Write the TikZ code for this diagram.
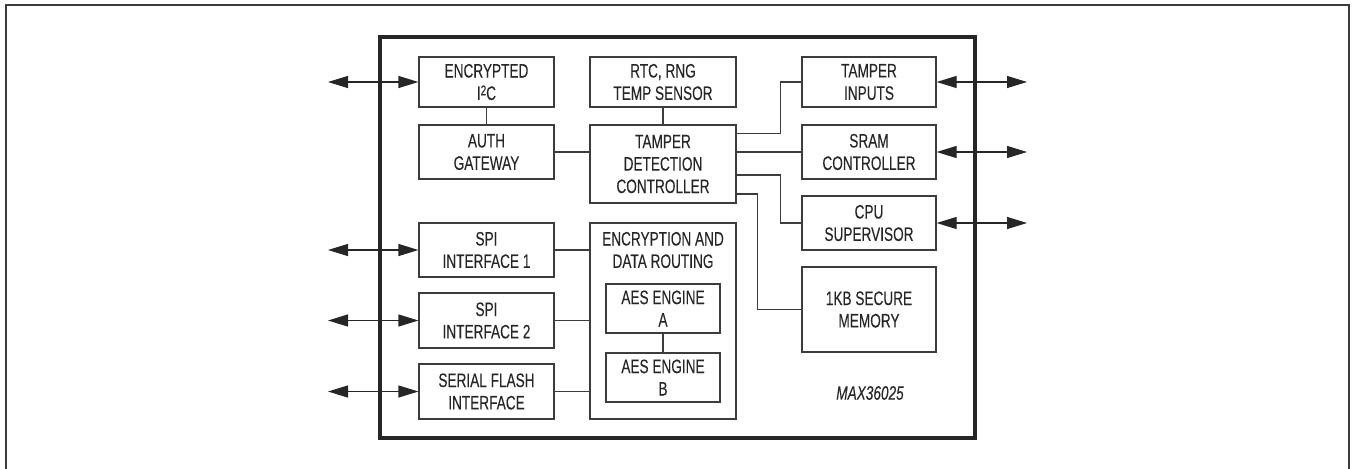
\documentclass[tikz,border=0pt]{standalone}
\usepackage{fontspec}
\setmainfont{Liberation Sans}[FakeStretch=0.70, FakeBold=0.15]
\usetikzlibrary{arrows.meta}
\definecolor{ink}{HTML}{262626}
\definecolor{edge}{HTML}{3C3C3C}
\newcommand\blocktext{\fontsize{14.6}{16.8}\selectfont}
\tikzset{
  block/.style={draw=edge, line width=0.9pt, inner sep=0pt, align=center,
    text=ink, font=\blocktext},
  wire/.style={draw=edge, line width=0.9pt},
  bus/.style={draw=ink, line width=0.9pt,
    {Triangle[length=15pt,width=9pt]}-{Triangle[length=15pt,width=9pt]}},
}
\begin{document}
\begin{tikzpicture}[x=0.75pt,y=-0.75pt]
\useasboundingbox (0,0) rectangle (1352,468);

% outer frame
\draw[draw=edge, line width=1.6pt] (6,475) -- (6,5) -- (1349,5) -- (1349,475);

% device outline
\node[draw=ink, line width=2.4pt, minimum width=446.25pt, minimum height=300.75pt,
  inner sep=0pt] (chip) at (677.5,237.5) {};

% blocks
\node[block, minimum width=101.25pt, minimum height=37.5pt]  (i2c)  at (486.5,82)    {ENCRYPTED\\I\raisebox{0.45ex}{\fontsize{10.5}{10.5}\selectfont 2}C};
\node[block, minimum width=101.25pt, minimum height=40.5pt]  (auth) at (486.5,152)   {AUTH\\GATEWAY};
\node[block, minimum width=109.5pt,  minimum height=37.5pt]  (rtc)  at (663,82)      {RTC, RNG\\TEMP SENSOR};
\node[block, minimum width=109.5pt,  minimum height=58.5pt]  (tdc)  at (663,164)     {TAMPER\\DETECTION\\CONTROLLER};
\node[block, minimum width=100.5pt,  minimum height=37.5pt]  (tin)  at (869,82)      {TAMPER\\INPUTS};
\node[block, minimum width=100.5pt,  minimum height=40.5pt]  (sram) at (869,152)     {SRAM\\CONTROLLER};
\node[block, minimum width=100.5pt,  minimum height=40.5pt]  (cpu)  at (869,223)     {CPU\\SUPERVISOR};
\node[block, minimum width=100.5pt,  minimum height=63.75pt] (mem)  at (869,309.5)   {1KB SECURE\\MEMORY};
\node[block, minimum width=101.25pt, minimum height=40.5pt]  (spi1) at (486.5,250)   {SPI\\INTERFACE 1};
\node[block, minimum width=101.25pt, minimum height=41.25pt] (spi2) at (486.5,320.5) {SPI\\INTERFACE 2};
\node[block, minimum width=101.25pt, minimum height=41.25pt] (sfl)  at (486.5,391.5) {SERIAL FLASH\\INTERFACE};
\node[block, minimum width=109.5pt,  minimum height=147pt]   (enc)  at (663,321)     {};
\node[text=ink, align=center, inner sep=0pt, font=\blocktext]
  (enct) at (663,250) {ENCRYPTION AND\\DATA ROUTING};
\node[block, minimum width=85.5pt, minimum height=36.75pt] (aesa) at (663,308.5) {AES ENGINE\\A};
\node[block, minimum width=85.5pt, minimum height=36.75pt] (aesb) at (663,377.5) {AES ENGINE\\B};
\node[text=ink, inner sep=0pt, font=\blocktext\itshape]
  (part) at (870,393) {MAX36025};

% internal connections
\draw[wire] (i2c.south) -- (auth.north);
\draw[wire] (auth.east) -- (auth.east -| tdc.west);
\draw[wire] (rtc.south) -- (tdc.north);
\draw[wire] ([yshift=-6.75pt]tdc.north east) -- ++(44,0) |- (tin.west);
\draw[wire] (sram.west) -- (sram.west -| tdc.east);
\draw[wire] ([yshift=-8.25pt]tdc.east) -- ++(44,0) |- (cpu.west);
\draw[wire] ([yshift=-22.5pt]tdc.east) -- ++(21,0) |- (mem.west);
\draw[wire] (spi1.east) -- (spi1.east -| enc.west);
\draw[wire] (spi2.east) -- (spi2.east -| enc.west);
\draw[wire] (sfl.east) -- (sfl.east -| enc.west);
\draw[wire] (aesa.south) -- (aesb.north);

% external pins
\coordinate (pi2c) at (328,82);
\coordinate (pspi1) at (328,250);
\coordinate (pspi2) at (328,320.5);
\coordinate (psfl) at (328,391.5);
\coordinate (ptin) at (1027,82);
\coordinate (psram) at (1027,152);
\coordinate (pcpu) at (1027,223);
\draw[bus] (pi2c) -- (i2c.west);
\draw[bus] (pspi1) -- (spi1.west);
\draw[bus] (pspi2) -- (spi2.west);
\draw[bus] (psfl) -- (sfl.west);
\draw[bus] (tin.east) -- (ptin);
\draw[bus] (sram.east) -- (psram);
\draw[bus] (cpu.east) -- (pcpu);
\end{tikzpicture}
\end{document}
